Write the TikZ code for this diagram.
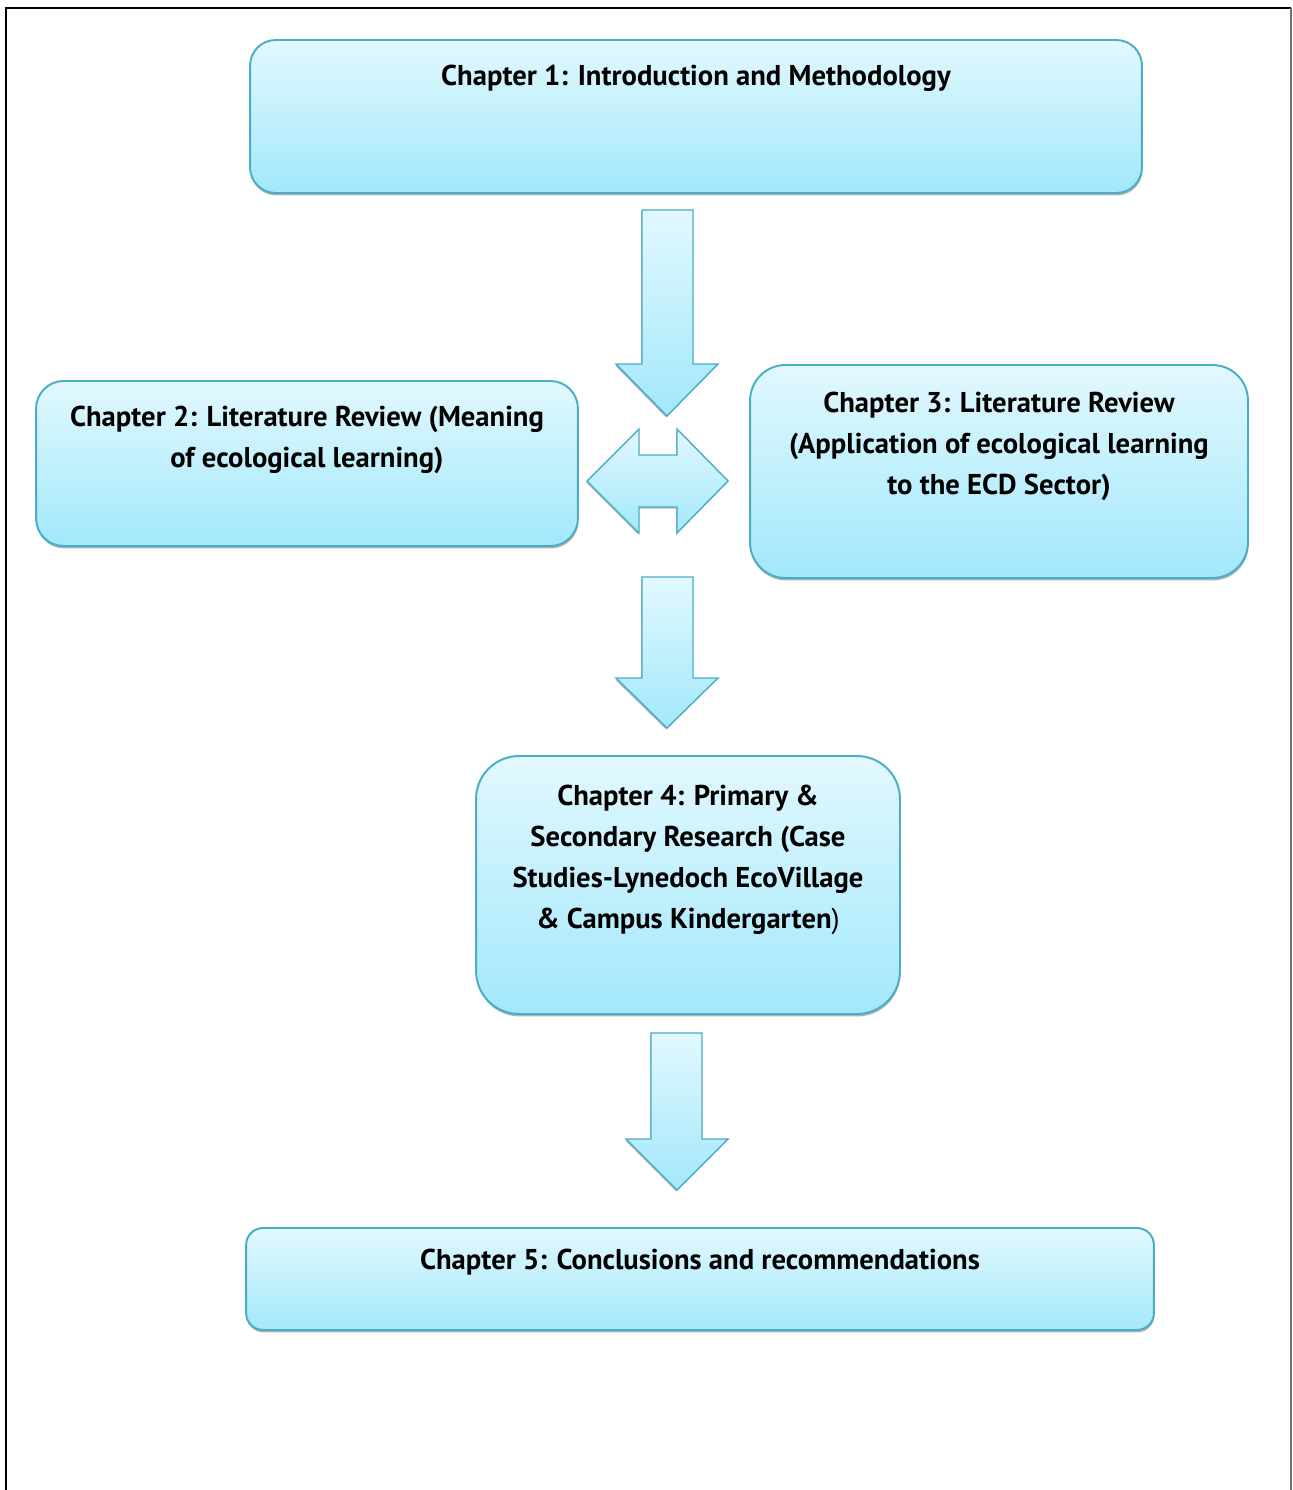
\documentclass[tikz,border=0pt]{standalone}
\usepackage{fontspec}
\setmainfont{PT Sans}
\usepackage{xcolor}
\usetikzlibrary{positioning, shadows}
\definecolor{boxtop}{HTML}{E2F8FE}
\definecolor{boxbottom}{HTML}{A2E8FB}
\definecolor{boxedge}{HTML}{4BACC6}
\definecolor{frameright}{HTML}{707070}

\begin{document}
\begin{tikzpicture}[
    x=0.02cm, y=-0.02cm,
    chapter/.style={draw=boxedge, line width=1.1pt, top color=boxtop, bottom color=boxbottom,
      inner sep=0pt, drop shadow={shadow xshift=0.3pt, shadow yshift=-1.4pt, fill=black!60}},
    chtext/.style={inner sep=0pt, align=center, font=\fontsize{16.3}{23.3}\selectfont\bfseries},
    blockarrow/.style={draw=boxedge, line width=0.8pt, top color=boxtop, bottom color=boxbottom,
      drop shadow={shadow xshift=-0.5pt, shadow yshift=-0.9pt, fill=black!55}}
]
\useasboundingbox (0,0) rectangle (1293,1490);

% Frame
\draw[line width=1.7pt] (6,1490) -- (6,8) -- (1291,8);
\draw[frameright, line width=1pt] (1291,8) -- (1291,1490);

% Chapter 1
\node[chapter, minimum width=17.84cm, minimum height=3.06cm, rounded corners=0.51cm] (ch1) at (696,116.5) {};
\node[chtext, below=0.52cm of ch1.north] (ch1text) {Chapter 1: Introduction and Methodology};

% Chapter 2
\node[chapter, minimum width=10.84cm, minimum height=3.3cm, rounded corners=0.55cm] (ch2) at (307,463.5) {};
\node[chtext, below=0.52cm of ch2.north] (ch2text) {Chapter 2: Literature Review (Meaning\\of ecological learning)};

% Chapter 3
\node[chapter, minimum width=9.96cm, minimum height=4.26cm, rounded corners=0.71cm] (ch3) at (999,471.5) {};
\node[chtext, below=0.56cm of ch3.north] (ch3text) {Chapter 3: Literature Review\\(Application of ecological learning\\to the ECD Sector)};

% Chapter 4
\node[chapter, minimum width=8.48cm, minimum height=5.16cm, rounded corners=0.86cm] (ch4) at (688,885) {};
\node[chtext, below=0.6cm of ch4.north] (ch4text) {Chapter 4: Primary \&\\Secondary Research (Case\\Studies-Lynedoch EcoVillage\\\& Campus Kindergarten{\mdseries)}};

% Chapter 5
\node[chapter, minimum width=18.16cm, minimum height=2.04cm, rounded corners=0.34cm] (ch5) at (700,1279) {};
\node[chtext, below=0.44cm of ch5.north] (ch5text) {Chapter 5: Conclusions and recommendations};

% Block arrows
\draw[blockarrow] (642,210) -- (693,210) -- (693,364) -- (718,364) -- (667,416)
  -- (616,364) -- (642,364) -- cycle;
\draw[blockarrow] (587,481) -- (639,429) -- (639,455) -- (677,455) -- (677,429)
  -- (728,481) -- (677,533) -- (677,507) -- (639,507) -- (639,533) -- cycle;
\draw[blockarrow] (642,577) -- (693,577) -- (693,678) -- (718,678) -- (667,728)
  -- (616,678) -- (642,678) -- cycle;
\draw[blockarrow] (651,1033) -- (702,1033) -- (702,1139) -- (728,1139) -- (677,1190)
  -- (626,1139) -- (651,1139) -- cycle;

\end{tikzpicture}
\end{document}
